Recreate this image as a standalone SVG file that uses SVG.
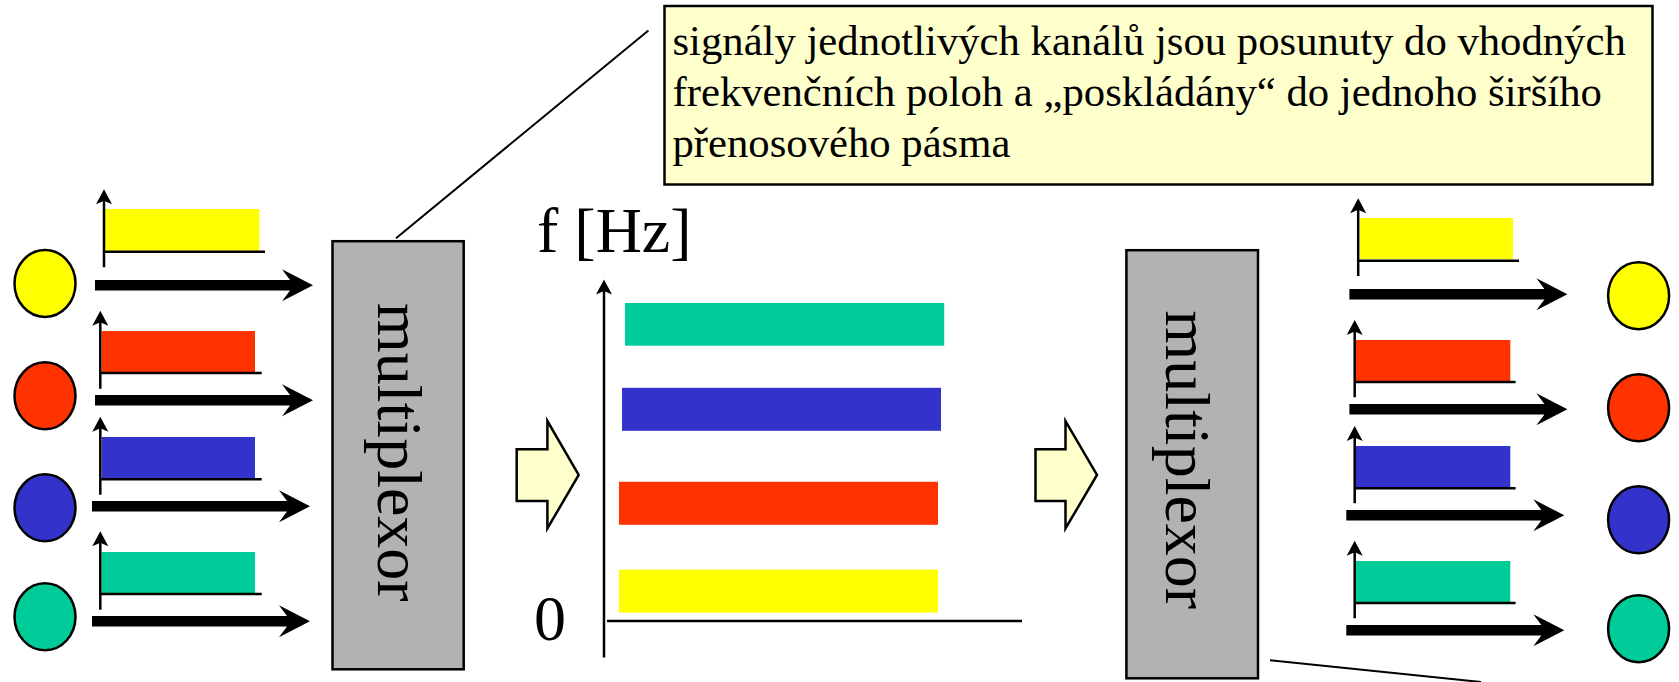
<svg xmlns="http://www.w3.org/2000/svg" width="1679" height="682" viewBox="0 0 1679 682">
<style>
text{font-family:"Liberation Serif","Times New Roman",serif;fill:#000}
.note{font-size:42.7px}
.big{font-size:64px}
.mux{fill:#b2b2b2;stroke:#000;stroke-width:2.5}
.dot{stroke:#000;stroke-width:2.5}
.ax{fill:none;stroke:#000;stroke-width:2.5}
.thin{fill:none;stroke:#000;stroke-width:2}
.block{fill:#ffffcc;stroke:#000;stroke-width:2.5}
.y{fill:#ffff00}.r{fill:#ff3300}.b{fill:#3333cc}.g{fill:#00cc99}
</style>
<defs>
<path id="thick" d="M0-5.300H195L187-16 218 0 187 16 195 5.300H0Z" fill="#000"/>
<path id="tip" d="M0 0L8 15 0 11.500-8 15Z" fill="#000"/>
</defs>
<rect width="1679" height="682" fill="#fff"/>
<g id="connectors">
<path class="thin" d="M396 238.300L648.400 30.400"/>
<path class="thin" d="M1270 660.300L1481 682"/>
<use href="#thick" x="95" y="285.300"/>
<use href="#thick" x="95" y="400.300"/>
<use href="#thick" x="92" y="506.300"/>
<use href="#thick" x="92" y="621.300"/>
<use href="#thick" x="1349.400" y="294.300"/>
<use href="#thick" x="1349.400" y="409.300"/>
<use href="#thick" x="1346.300" y="515.300"/>
<use href="#thick" x="1346.300" y="630.300"/>
</g>
<g id="note">
<rect x="664.500" y="6" width="988" height="178.500" class="block"/>
<text class="note" x="672.500" y="55">signály jednotlivých kanálů jsou posunuty do vhodných</text>
<text class="note" x="672.500" y="106">frekvenčních poloh a „poskládány“ do jednoho širšího</text>
<text class="note" x="672.500" y="157">přenosového pásma</text>
</g>
<g id="source-yellow"><ellipse class="dot y" cx="45" cy="283.500" rx="30.500" ry="33.500"/></g>
<g id="source-red"><ellipse class="dot r" cx="45" cy="395.800" rx="30.500" ry="33.500"/></g>
<g id="source-blue"><ellipse class="dot b" cx="45" cy="507.800" rx="30.500" ry="33.500"/></g>
<g id="source-green"><ellipse class="dot g" cx="45" cy="616.800" rx="30.500" ry="33.500"/></g>
<g id="chart-in-yellow"><rect class="y" x="105" y="209" width="154.300" height="41.700"/><path class="ax" d="M104 267.300V194M104 251.700H265"/><use href="#tip" x="104" y="189.300"/></g>
<g id="chart-in-red"><rect class="r" x="101.700" y="331" width="153.300" height="41"/><path class="ax" d="M100.300 388.700V316M100.300 373H261.700"/><use href="#tip" x="100.300" y="310.700"/></g>
<g id="chart-in-blue"><rect class="b" x="101.700" y="437" width="153.300" height="41"/><path class="ax" d="M100.300 494.700V422M100.300 479.300H261.700"/><use href="#tip" x="100.300" y="416.700"/></g>
<g id="chart-in-green"><rect class="g" x="101.700" y="552" width="153.300" height="41"/><path class="ax" d="M100.300 609.700V537M100.300 594H261.700"/><use href="#tip" x="100.300" y="531.300"/></g>
<g id="mux-left"><rect class="mux" x="332.500" y="241.200" width="131.200" height="428.100"/><text class="big" transform="translate(377.700 303) rotate(90)">multiplexor</text></g>
<g id="block-arrow-1"><path class="block" d="M516.700 449.300H547.400V421L578.700 474.900 547.400 528.500V501H516.700Z"/></g>
<g id="spectrum">
<text class="big" x="537" y="252">f [Hz]</text>
<text class="big" x="534" y="640">0</text>
<rect class="g" x="625" y="303" width="319.200" height="42.700"/>
<rect class="b" x="622" y="387.800" width="319" height="43"/>
<rect class="r" x="619" y="481.800" width="319" height="43"/>
<rect class="y" x="619" y="569.600" width="319" height="43"/>
<path class="ax" d="M604 657.400V285M607 621H1022"/>
<use href="#tip" x="604" y="279.600"/>
</g>
<g id="block-arrow-2"><path class="block" d="M1035.500 449.300H1065.500V421L1097 474.900 1065.500 528.500V501H1035.500Z"/></g>
<g id="mux-right"><rect class="mux" x="1126.400" y="250.200" width="131.600" height="428.100"/><text class="big" transform="translate(1166 310.500) rotate(90)">multiplexor</text></g>
<g id="chart-out-yellow"><rect class="y" x="1360" y="218" width="153" height="41.300"/><path class="ax" d="M1358.200 276V203M1358.200 260.700H1519"/><use href="#tip" x="1358.200" y="198.300"/></g>
<g id="chart-out-red"><rect class="r" x="1355.900" y="340" width="154.400" height="41"/><path class="ax" d="M1354.700 397.300V325M1354.700 382H1515.600"/><use href="#tip" x="1354.700" y="320"/></g>
<g id="chart-out-blue"><rect class="b" x="1355.900" y="446" width="154.400" height="41"/><path class="ax" d="M1354.700 503.300V431M1354.700 488.300H1515.600"/><use href="#tip" x="1354.700" y="426"/></g>
<g id="chart-out-green"><rect class="g" x="1355.900" y="561" width="154.400" height="41"/><path class="ax" d="M1354.700 618.300V546M1354.700 603H1515.600"/><use href="#tip" x="1354.700" y="540.700"/></g>
<g id="sink-yellow"><ellipse class="dot y" cx="1638.600" cy="295.700" rx="30.500" ry="33.500"/></g>
<g id="sink-red"><ellipse class="dot r" cx="1638.600" cy="407.800" rx="30.500" ry="33.500"/></g>
<g id="sink-blue"><ellipse class="dot b" cx="1638.600" cy="519.800" rx="30.500" ry="33.500"/></g>
<g id="sink-green"><ellipse class="dot g" cx="1638.600" cy="628.700" rx="30.500" ry="33.500"/></g>
</svg>
